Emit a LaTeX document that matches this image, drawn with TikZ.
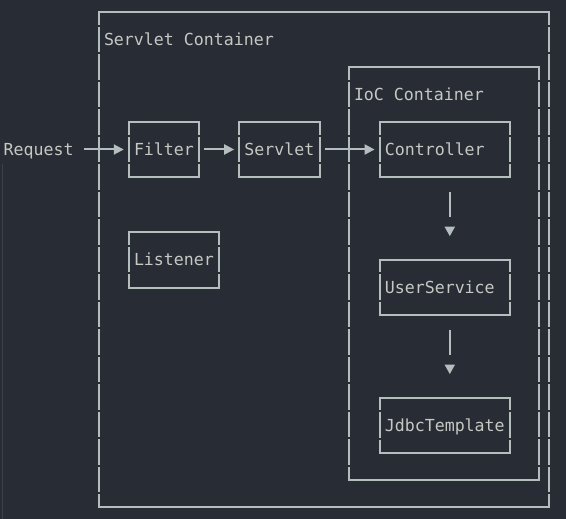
\documentclass[tikz,border=0pt]{standalone}
\usepackage{fontspec}
\setmonofont{DejaVu Sans Mono}
\usetikzlibrary{arrows.meta,positioning}
\definecolor{bgc}{HTML}{282C34}
\definecolor{linec}{HTML}{B4BEBE}
\definecolor{textc}{HTML}{C6C8C4}
\definecolor{guidec}{HTML}{3B404A}
\begin{document}
\begin{tikzpicture}[x=1pt,y=-1pt,>={Triangle[length=10pt,width=10pt]}]
        \tikzset{lbl/.style={font=\ttfamily\fontsize{16.6}{20}\selectfont,text=textc,inner sep=0pt,text height=12.1pt,text depth=0pt},
        block/.style={lbl,minimum height=55pt,inner xsep=5pt,text width=#1,align=left},
        container/.style={inner sep=0pt},
        hrule/.style={draw=linec,line width=2pt,line cap=rect},
        vrule/.style={draw=linec,line width=1.8pt,dash pattern=on 25.5pt off 2pt,dash phase=12.75pt},
        flow/.style={draw=linec,line width=2pt,shorten <=5pt,shorten >=5pt,->},
        downflow/.style={draw=linec,line width=1.8pt,shorten <=14.75pt,shorten >=23.5pt,
        dash pattern=on 25.5pt off 100pt,-{Triangle[length=9.5pt,width=10pt]}},
        }
        \fill[bgc] (0,0) rectangle (566,519);
        \useasboundingbox (0,0) rectangle (566,519);
        \draw[guidec,line width=1pt] (2,164) -- (2,519);
%% containers
        \node [container,minimum width=450pt,minimum height=495pt] (servlets) at (324,259.5) {};
        \node [container,minimum width=190pt,minimum height=412.5pt] (ioc) at (444,273.25) {};
        \node [lbl,anchor=west] (servletstitle) at ([xshift=5pt,yshift=-27.5pt]servlets.north west) {Servlet Container};
        \node [lbl,anchor=west] (ioctitle) at ([xshift=5pt,yshift=-27.5pt]ioc.north west) {IoC Container};
%% blocks
        \node [block=60pt] (filter) at (164,149.5) {Filter};
        \node [block=70pt,right=40pt of filter] (servlet) {Servlet};
        \node [block=120pt,right=60pt of servlet] (controller) {Controller};
        \node [lbl,left=55pt of filter] (request) {Request};
        \node [block=80pt,below right=55pt and 0pt of filter.south west] (listener) {Listener};
        \node [block=120pt,below=82.5pt of controller] (service) {UserService};
        \node [block=120pt,below=82.5pt of service] (jdbc) {JdbcTemplate};
%% frames
        \foreach \b in {servlets,ioc,filter,servlet,controller,listener,service,jdbc}{
            \draw[hrule] (\b.north west) -- (\b.north east) (\b.south west) -- (\b.south east);
            \draw[vrule] (\b.north west) -- (\b.south west) (\b.north east) -- (\b.south east);
        }
%% paths
        \draw[flow,shorten <=10pt] (request) -- (filter);
        \draw[flow] (filter) -- (servlet);
        \draw[flow] (servlet) -- (controller);
        \draw[downflow] ([xshift=5pt]controller.south) -- ([xshift=5pt]service.north);
        \draw[downflow] ([xshift=5pt]service.south) -- ([xshift=5pt]jdbc.north);
\end{tikzpicture}
\end{document}
